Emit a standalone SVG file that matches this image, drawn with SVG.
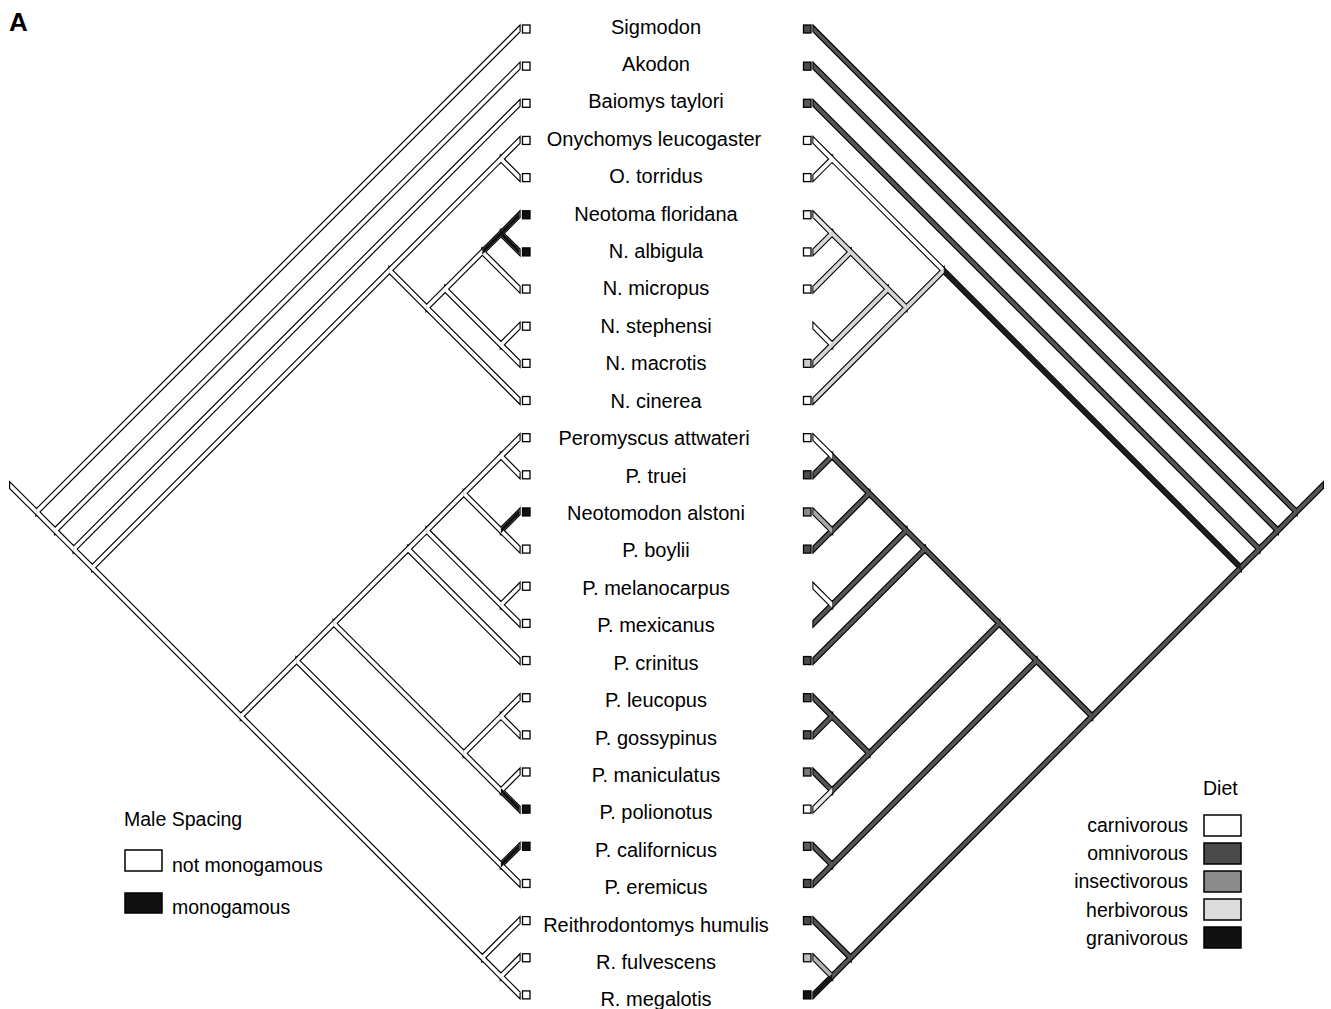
<svg xmlns="http://www.w3.org/2000/svg" xmlns:xlink="http://www.w3.org/1999/xlink" width="1331" height="1009" viewBox="0 0 1331 1009">
<style>
.lbl{font-family:"Liberation Sans",Arial,sans-serif;font-size:20px;text-anchor:middle;fill:#000}
.leg{font-family:"Liberation Sans",Arial,sans-serif;font-size:19.5px;fill:#000}
.legr{font-family:"Liberation Sans",Arial,sans-serif;font-size:19.5px;fill:#000;text-anchor:end}
.sq{stroke:#000;stroke-width:1.3}
.box{stroke:#000;stroke-width:1.5}
.w{fill:#fff}.k{fill:#111}.om{fill:#4a4a4a}.om2{fill:#5a5a5a}.ins{fill:#8a8a8a}.hb{fill:#dcdcdc}.lt{fill:#bdbdbd}
</style>
<defs>
<g id="tree">
<polygon id="e1" points="13,12.93 0,-0.07 0,0.07 13,13.07"/>
<polygon id="e2" points="13,12.93 13.71,12.22 13.71,12.36 13,13.07"/>
<polygon id="e3" points="13,12.93 12.5,13.43 12.5,13.57 13,13.07"/>
<polygon id="e4" points="12.5,13.43 0,0.93 0,1.07 12.5,13.57"/>
<polygon id="e5" points="12.5,13.43 12,13.93 12,14.07 12.5,13.57"/>
<polygon id="e6" points="12,13.93 0,1.93 0,2.07 12,14.07"/>
<polygon id="e7" points="12,13.93 11.5,14.43 11.5,14.57 12,14.07"/>
<polygon id="e8" points="11.5,14.43 3.5,6.43 3.5,6.57 11.5,14.57"/>
<polygon id="e9" points="11.5,14.43 7.5,18.43 7.5,18.57 11.5,14.57"/>
<polygon id="e10" points="3.5,6.43 0.5,3.43 0.5,3.57 3.5,6.57"/>
<polygon id="e11" points="3.5,6.43 2.5,7.43 2.5,7.57 3.5,6.57"/>
<polygon id="e12" points="0.5,3.43 0,2.93 0,3.07 0.5,3.57"/>
<polygon id="e13" points="0.5,3.43 0,3.93 0,4.07 0.5,3.57"/>
<polygon id="e14" points="2.5,7.43 2,6.93 2,7.07 2.5,7.57"/>
<polygon id="e15" points="2.5,7.43 0,9.93 0,10.07 2.5,7.57"/>
<polygon id="e16" points="2,6.93 1,5.93 1,6.07 2,7.07"/>
<polygon id="e17" points="2,6.93 0.5,8.43 0.5,8.57 2,7.07"/>
<polygon id="e18" points="1,5.93 0.5,5.43 0.5,5.57 1,6.07"/>
<polygon id="e19" points="1,5.93 0,6.93 0,7.07 1,6.07"/>
<polygon id="e20" points="0.5,5.43 0,4.93 0,5.07 0.5,5.57"/>
<polygon id="e21" points="0.5,5.43 0,5.93 0,6.07 0.5,5.57"/>
<polygon id="e22" points="0.5,8.43 0,7.93 0,8.07 0.5,8.57"/>
<polygon id="e23" points="0.5,8.43 0,8.93 0,9.07 0.5,8.57"/>
<polygon id="e24" points="7.5,18.43 6,16.93 6,17.07 7.5,18.57"/>
<polygon id="e25" points="7.5,18.43 1,24.93 1,25.07 7.5,18.57"/>
<polygon id="e26" points="6,16.93 5,15.93 5,16.07 6,17.07"/>
<polygon id="e27" points="6,16.93 0.5,22.43 0.5,22.57 6,17.07"/>
<polygon id="e28" points="5,15.93 3,13.93 3,14.07 5,16.07"/>
<polygon id="e29" points="5,15.93 1.5,19.43 1.5,19.57 5,16.07"/>
<polygon id="e30" points="3,13.93 2.5,13.43 2.5,13.57 3,14.07"/>
<polygon id="e31" points="3,13.93 0,16.93 0,17.07 3,14.07"/>
<polygon id="e32" points="2.5,13.43 1.5,12.43 1.5,12.57 2.5,13.57"/>
<polygon id="e33" points="2.5,13.43 0.5,15.43 0.5,15.57 2.5,13.57"/>
<polygon id="e34" points="1.5,12.43 0.5,11.43 0.5,11.57 1.5,12.57"/>
<polygon id="e35" points="1.5,12.43 0.5,13.43 0.5,13.57 1.5,12.57"/>
<polygon id="e36" points="0.5,11.43 0,10.93 0,11.07 0.5,11.57"/>
<polygon id="e37" points="0.5,11.43 0,11.93 0,12.07 0.5,11.57"/>
<polygon id="e38" points="0.5,13.43 0,12.93 0,13.07 0.5,13.57"/>
<polygon id="e39" points="0.5,13.43 0,13.93 0,14.07 0.5,13.57"/>
<polygon id="e40" points="0.5,15.43 0,14.93 0,15.07 0.5,15.57"/>
<polygon id="e41" points="0.5,15.43 0,15.93 0,16.07 0.5,15.57"/>
<polygon id="e42" points="1.5,19.43 0.5,18.43 0.5,18.57 1.5,19.57"/>
<polygon id="e43" points="1.5,19.43 0.5,20.43 0.5,20.57 1.5,19.57"/>
<polygon id="e44" points="0.5,18.43 0,17.93 0,18.07 0.5,18.57"/>
<polygon id="e45" points="0.5,18.43 0,18.93 0,19.07 0.5,18.57"/>
<polygon id="e46" points="0.5,20.43 0,19.93 0,20.07 0.5,20.57"/>
<polygon id="e47" points="0.5,20.43 0,20.93 0,21.07 0.5,20.57"/>
<polygon id="e48" points="0.5,22.43 0,21.93 0,22.07 0.5,22.57"/>
<polygon id="e49" points="0.5,22.43 0,22.93 0,23.07 0.5,22.57"/>
<polygon id="e50" points="1,24.93 0,23.93 0,24.07 1,25.07"/>
<polygon id="e51" points="1,24.93 0.5,25.43 0.5,25.57 1,25.07"/>
<polygon id="e52" points="0.5,25.43 0,24.93 0,25.07 0.5,25.57"/>
<polygon id="e53" points="0.5,25.43 0,25.93 0,26.07 0.5,25.57"/>
</g>
</defs>
<rect x="0" y="0" width="1331" height="1009" fill="#fff"/>
<text x="9" y="31" font-family="Liberation Sans, Arial, sans-serif" font-size="26" font-weight="bold">A</text>
<g id="connectors">
<g id="spacing-tree" transform="translate(519.5,29) scale(-37.15,37.15)">
<use href="#tree" fill="#000" stroke="#000" stroke-width="0.062" stroke-linejoin="miter"/>
<use href="#tree" fill="#fff" stroke="none"/>
<use href="#e18" fill="#111"/><use href="#e20" fill="#111"/><use href="#e21" fill="#111"/>
<use href="#e38" fill="#111"/><use href="#e47" fill="#111"/><use href="#e48" fill="#111"/>
</g>
<g id="diet-tree" transform="translate(813.5,29) scale(37.15,37.15)">
<use href="#tree" fill="#000" stroke="#000" stroke-width="0.062" stroke-linejoin="miter"/>
<use href="#tree" fill="#555" stroke="none"/>
<use href="#e8" fill="#1c1c1c"/>
<use href="#e10" fill="#fff"/><use href="#e12" fill="#fff"/><use href="#e13" fill="#fff"/>
<use href="#e11" fill="#d6d6d6"/><use href="#e14" fill="#d6d6d6"/><use href="#e15" fill="#d6d6d6"/><use href="#e16" fill="#d6d6d6"/><use href="#e17" fill="#d6d6d6"/><use href="#e18" fill="#d6d6d6"/><use href="#e19" fill="#d6d6d6"/><use href="#e20" fill="#e8e8e8"/><use href="#e21" fill="#d6d6d6"/><use href="#e22" fill="#fff"/><use href="#e23" fill="#d6d6d6"/>
<use href="#e36" fill="#fff"/><use href="#e38" fill="#a8a8a8"/><use href="#e40" fill="#fff"/><use href="#e47" fill="#ececec"/>
<use href="#e52" fill="#b4b4b4"/><use href="#e53" fill="#151515"/>
</g>
</g>
<g id="taxa">
<g id="t0"><text class="lbl" x="656" y="33.5">Sigmodon</text><rect class="sq w" x="522.5" y="25" width="7.5" height="8"/><rect class="sq om" x="803.5" y="25" width="7.5" height="8"/></g>
<g id="t1"><text class="lbl" x="656" y="70.9">Akodon</text><rect class="sq w" x="522.5" y="62.15" width="7.5" height="8"/><rect class="sq om" x="803.5" y="62.15" width="7.5" height="8"/></g>
<g id="t2"><text class="lbl" x="656" y="108.3">Baiomys taylori</text><rect class="sq w" x="522.5" y="99.3" width="7.5" height="8"/><rect class="sq om2" x="803.5" y="99.3" width="7.5" height="8"/></g>
<g id="t3"><text class="lbl" x="654" y="145.8">Onychomys leucogaster</text><rect class="sq w" x="522.5" y="136.45" width="7.5" height="8"/><rect class="sq w" x="803.5" y="136.45" width="7.5" height="8"/></g>
<g id="t4"><text class="lbl" x="656" y="183.2">O. torridus</text><rect class="sq w" x="522.5" y="173.6" width="7.5" height="8"/><rect class="sq w" x="803.5" y="173.6" width="7.5" height="8"/></g>
<g id="t5"><text class="lbl" x="656" y="220.6">Neotoma floridana</text><rect class="sq k" x="522.5" y="210.75" width="7.5" height="8"/><rect class="sq" fill="#eee" x="803.5" y="210.75" width="7.5" height="8"/></g>
<g id="t6"><text class="lbl" x="656" y="258">N. albigula</text><rect class="sq k" x="522.5" y="247.9" width="7.5" height="8"/><rect class="sq w" x="803.5" y="247.9" width="7.5" height="8"/></g>
<g id="t7"><text class="lbl" x="656" y="295.4">N. micropus</text><rect class="sq w" x="522.5" y="285.05" width="7.5" height="8"/><rect class="sq w" x="803.5" y="285.05" width="7.5" height="8"/></g>
<g id="t8"><text class="lbl" x="656" y="332.9">N. stephensi</text><rect class="sq w" x="522.5" y="322.2" width="7.5" height="8"/></g>
<g id="t9"><text class="lbl" x="656" y="370.3">N. macrotis</text><rect class="sq w" x="522.5" y="359.35" width="7.5" height="8"/><rect class="sq" fill="#ccc" x="803.5" y="359.35" width="7.5" height="8"/></g>
<g id="t10"><text class="lbl" x="656" y="407.7">N. cinerea</text><rect class="sq w" x="522.5" y="396.5" width="7.5" height="8"/><rect class="sq w" x="803.5" y="396.5" width="7.5" height="8"/></g>
<g id="t11"><text class="lbl" x="654" y="445.1">Peromyscus attwateri</text><rect class="sq w" x="522.5" y="433.65" width="7.5" height="8"/><rect class="sq" fill="#f2f2f2" x="803.5" y="433.65" width="7.5" height="8"/></g>
<g id="t12"><text class="lbl" x="656" y="482.5">P. truei</text><rect class="sq w" x="522.5" y="470.8" width="7.5" height="8"/><rect class="sq om" x="803.5" y="470.8" width="7.5" height="8"/></g>
<g id="t13"><text class="lbl" x="656" y="520">Neotomodon alstoni</text><rect class="sq k" x="522.5" y="507.95" width="7.5" height="8"/><rect class="sq ins" x="803.5" y="507.95" width="7.5" height="8"/></g>
<g id="t14"><text class="lbl" x="656" y="557.4">P. boylii</text><rect class="sq w" x="522.5" y="545.1" width="7.5" height="8"/><rect class="sq om" x="803.5" y="545.1" width="7.5" height="8"/></g>
<g id="t15"><text class="lbl" x="656" y="594.8">P. melanocarpus</text><rect class="sq w" x="522.5" y="582.25" width="7.5" height="8"/></g>
<g id="t16"><text class="lbl" x="656" y="632.2">P. mexicanus</text><rect class="sq w" x="522.5" y="619.4" width="7.5" height="8"/></g>
<g id="t17"><text class="lbl" x="656" y="669.6">P. crinitus</text><rect class="sq w" x="522.5" y="656.55" width="7.5" height="8"/><rect class="sq om" x="803.5" y="656.55" width="7.5" height="8"/></g>
<g id="t18"><text class="lbl" x="656" y="707.1">P. leucopus</text><rect class="sq w" x="522.5" y="693.7" width="7.5" height="8"/><rect class="sq om" x="803.5" y="693.7" width="7.5" height="8"/></g>
<g id="t19"><text class="lbl" x="656" y="744.5">P. gossypinus</text><rect class="sq w" x="522.5" y="730.85" width="7.5" height="8"/><rect class="sq om" x="803.5" y="730.85" width="7.5" height="8"/></g>
<g id="t20"><text class="lbl" x="656" y="781.9">P. maniculatus</text><rect class="sq w" x="522.5" y="768" width="7.5" height="8"/><rect class="sq" fill="#777" x="803.5" y="768" width="7.5" height="8"/></g>
<g id="t21"><text class="lbl" x="656" y="819.3">P. polionotus</text><rect class="sq k" x="522.5" y="805.15" width="7.5" height="8"/><rect class="sq w" x="803.5" y="805.15" width="7.5" height="8"/></g>
<g id="t22"><text class="lbl" x="656" y="856.7">P. californicus</text><rect class="sq k" x="522.5" y="842.3" width="7.5" height="8"/><rect class="sq om2" x="803.5" y="842.3" width="7.5" height="8"/></g>
<g id="t23"><text class="lbl" x="656" y="894.2">P. eremicus</text><rect class="sq w" x="522.5" y="879.45" width="7.5" height="8"/><rect class="sq om" x="803.5" y="879.45" width="7.5" height="8"/></g>
<g id="t24"><text class="lbl" x="656" y="931.6">Reithrodontomys humulis</text><rect class="sq w" x="522.5" y="916.6" width="7.5" height="8"/><rect class="sq om" x="803.5" y="916.6" width="7.5" height="8"/></g>
<g id="t25"><text class="lbl" x="656" y="969">R. fulvescens</text><rect class="sq w" x="522.5" y="953.75" width="7.5" height="8"/><rect class="sq lt" x="803.5" y="953.75" width="7.5" height="8"/></g>
<g id="t26"><text class="lbl" x="656" y="1006.4">R. megalotis</text><rect class="sq w" x="522.5" y="990.9" width="7.5" height="8"/><rect class="sq k" x="803.5" y="990.9" width="7.5" height="8"/></g>
</g>
<g id="legend-spacing">
<text class="leg" x="124" y="826">Male Spacing</text>
<rect class="box w" x="125" y="850" width="37" height="21"/>
<text class="leg" x="172" y="872">not monogamous</text>
<rect class="box k" x="125" y="893" width="37" height="20"/>
<text class="leg" x="172" y="914">monogamous</text>
</g>
<g id="legend-diet">
<text class="leg" x="1203" y="795">Diet</text>
<rect class="box w" x="1204" y="815" width="37" height="21"/>
<text class="legr" x="1188" y="832">carnivorous</text>
<rect class="box om" x="1204" y="843" width="37" height="21"/>
<text class="legr" x="1188" y="860">omnivorous</text>
<rect class="box ins" x="1204" y="871" width="37" height="21"/>
<text class="legr" x="1188" y="888">insectivorous</text>
<rect class="box hb" x="1204" y="899" width="37" height="21"/>
<text class="legr" x="1188" y="917">herbivorous</text>
<rect class="box k" x="1204" y="927" width="37" height="21"/>
<text class="legr" x="1188" y="945">granivorous</text>
</g>
</svg>
